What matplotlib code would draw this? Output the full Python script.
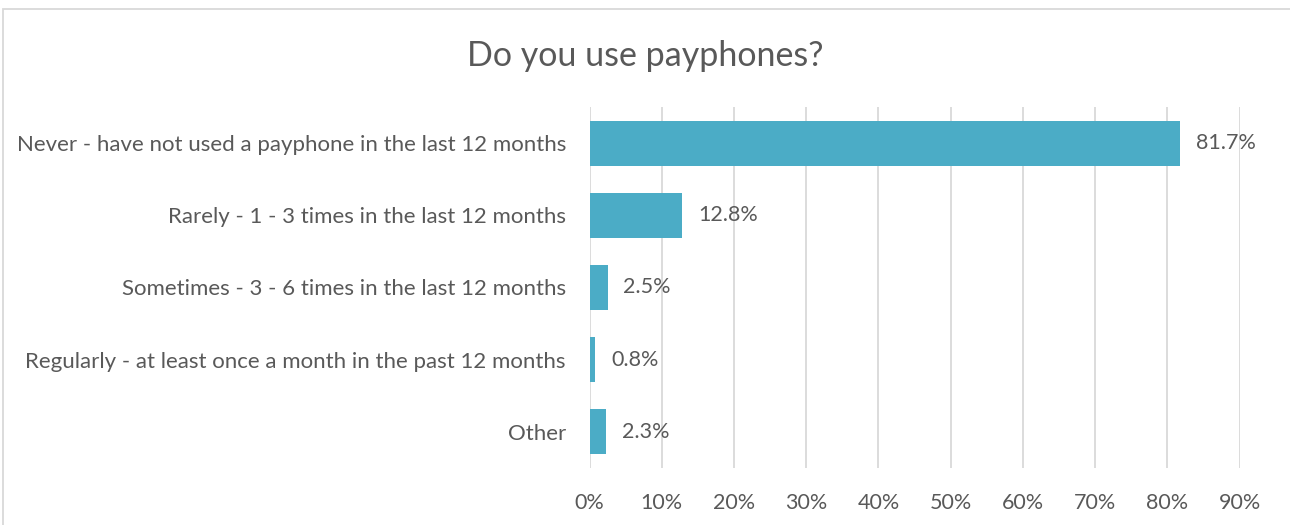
import matplotlib.pyplot as plt
from matplotlib.patches import Rectangle

categories = [
    "Never - have not used a payphone in the last 12 months",
    "Rarely - 1 - 3 times in the last 12 months",
    "Sometimes - 3 - 6 times in the last 12 months",
    "Regularly - at least once a month in the past 12 months",
    "Other",
]
values = [81.7, 12.8, 2.5, 0.8, 2.3]
ticks = [0, 10, 20, 30, 40, 50, 60, 70, 80, 90]

plt.rcParams['font.family'] = ['Lato', 'DejaVu Sans']
text_col = '#595959'

fig = plt.figure(figsize=(12.9, 5.25), dpi=100)
ax = fig.add_axes([0.457, 0.109, 0.504, 0.687])

ypos = list(range(len(categories)))
ax.barh(ypos, values, height=0.62, color='#4BACC6', zorder=3)
for y, v in zip(ypos, values):
    ax.text(v + 2.2, y, f"{v:.1f}%", va='center', ha='left', fontsize=15.5, color=text_col)

ax.set_xlim(0, 90)
ax.set_ylim(len(categories) - 0.5, -0.5)
ax.set_yticks(ypos)
ax.set_yticklabels(categories, fontsize=16, color=text_col)
ax.set_xticks(ticks)
ax.set_xticklabels([f"{t}%" for t in ticks], fontsize=15.5, color=text_col)
ax.tick_params(axis='both', length=0)
ax.tick_params(axis='y', pad=17)
ax.tick_params(axis='x', pad=18)
ax.grid(axis='x', color='#D9D9D9', linewidth=1.3, zorder=0)
for s in ax.spines.values():
    s.set_visible(False)

fig.text(0.5, 0.893, "Do you use payphones?", ha='center', va='center', fontsize=24.5, color=text_col)

fig.patches.append(Rectangle((3 / 1290, -0.01), 1.02, 1 - 9 / 525 + 0.01, transform=fig.transFigure,
                             fill=False, edgecolor='#D9D9D9', linewidth=1.3))

fig.savefig('out.png', dpi=100)
